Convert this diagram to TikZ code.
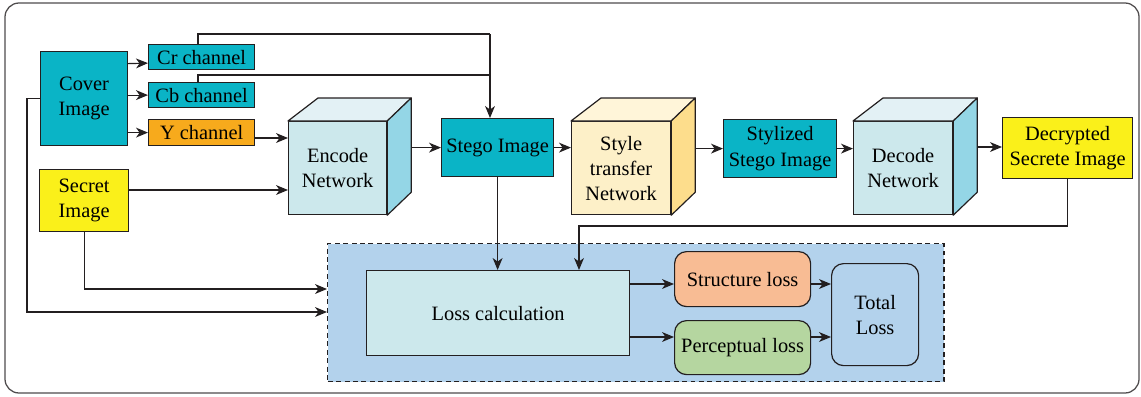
\documentclass[tikz,border=0pt]{standalone}
\usepackage{fontspec}
\setmainfont{Liberation Serif}
\usetikzlibrary{arrows.meta,calc}

\definecolor{lineC}{HTML}{231F20}
\definecolor{tealC}{HTML}{0AB4C6}
\definecolor{orangeC}{HTML}{F7AA1C}
\definecolor{yellowC}{HTML}{FAF01A}
\definecolor{encFront}{HTML}{CCE8EC}
\definecolor{encTop}{HTML}{E3F1F5}
\definecolor{encSide}{HTML}{94D6E6}
\definecolor{styFront}{HTML}{FDF0C8}
\definecolor{styTop}{HTML}{FFF5D9}
\definecolor{stySide}{HTML}{FDDD8C}
\definecolor{lossBg}{HTML}{B3D2EC}
\definecolor{structC}{HTML}{F8BC94}
\definecolor{percepC}{HTML}{B5D6A0}

\begin{document}
\begin{tikzpicture}[x=0.025cm, y=-0.025cm, line width=0.85pt, draw=lineC,
		>={Stealth[length=8.5pt,width=7pt,inset=2.5pt]},
		font=\rmfamily\fontsize{14.5}{17.8}\selectfont,
		box/.style={draw=lineC, inner sep=0pt, align=center, anchor=north west},
		soft/.style={box, rounded corners=0.3cm}]
		\useasboundingbox (0,0) rectangle (1141,396);
		\draw[draw=lineC!80, line width=0.9pt, rounded corners=0.35cm] (5,3) rectangle (1139,393);

		% loss block background
		\node[box, fill=lossBg, dashed, dash pattern=on 3.5pt off 2.5pt, line width=1pt, minimum width=15.4cm, minimum height=3.45cm] (lossbg) at (327,243) {};

		\node[box, fill=tealC, minimum width=2.175cm, minimum height=2.35cm] (cover) at (40,51) {Cover\\Image};
		\node[box, fill=tealC, minimum width=2.65cm, minimum height=0.625cm] (cr) at (148,44) {Cr channel};
		\node[box, fill=tealC, minimum width=2.65cm, minimum height=0.625cm] (cb) at (148,82) {Cb channel};
		\node[box, fill=orangeC, minimum width=2.65cm, minimum height=0.65cm] (ych) at (148,119) {Y channel};
		\node[box, fill=yellowC, minimum width=2.225cm, minimum height=1.55cm] (secret) at (39,169) {Secret\\Image};

		\node[box, fill=encFront, minimum width=2.45cm, minimum height=2.325cm] (enc) at (288,121) {Encode\\Network};
		\node[box, fill=tealC, minimum width=2.8cm, minimum height=1.45cm] (stego) at (441,118) {Stego Image};
		\node[box, fill=styFront, minimum width=2.475cm, minimum height=2.325cm] (sty) at (571,121) {Style\\transfer\\Network};
		\node[box, fill=tealC, minimum width=2.825cm, minimum height=1.45cm] (stylized) at (723,119) {Stylized\\Stego Image};
		\node[box, fill=encFront, minimum width=2.475cm, minimum height=2.325cm] (dec) at (853,121) {Decode\\Network};
		\node[box, fill=yellowC, minimum width=3.25cm, minimum height=1.525cm] (decr) at (1002,117) {Decrypted\\Secrete Image};

		\node[box, fill=encFront, minimum width=6.575cm, minimum height=2.125cm] (losscalc) at (366,270) {Loss calculation};
		\node[soft, fill=structC, minimum width=3.4cm, minimum height=1.375cm] (struct) at (674,251) {Structure loss};
		\node[soft, fill=percepC, minimum width=3.4cm, minimum height=1.35cm] (percep) at (674,320) {Perceptual loss};
		\node[soft, fill=lossBg, minimum width=2.175cm, minimum height=2.55cm] (total) at (831,263) {Total\\Loss};

		% cube faces
		\foreach \c/\tc/\sc in {enc/encTop/encSide, sty/styTop/stySide, dec/encTop/encSide}{
			\draw[fill=\tc, line join=round] (\c.north west) -- ++(30,-23) -- ($(\c.north east)+(24,-23)$) -- (\c.north east) -- cycle;
			\draw[fill=\sc, line join=round] (\c.north east) -- ++(24,-23) -- ($(\c.south east)+(24,-23)$) -- (\c.south east) -- cycle;
			\coordinate (\c R) at ($(\c.east)+(24,-23)$);
		}
		\coordinate (topjoin) at (490,34);
		\coordinate (backjoin) at (579,226);

		\draw[->] ($(cover.east)+(0,-35)$) -- ($(cr.west)+(0,6)$);
		\draw[->] (cover.east |- cb.west) -- (cb.west);
		\draw[->] (cover.east |- ych.west) -- (ych.west);
		\draw[->] (ych.east |- 0,138) -- (enc.west |- 0,138);
		\draw[->] (secret.east |- 0,190) -- (enc.west |- 0,190);
		\draw (cr.north -| 198,0) |- (topjoin);
		\draw (cb.north -| 198,0) |- (topjoin |- 0,75);
		\draw[->] (topjoin) -- (topjoin |- stego.north);
		\draw[->] (encR |- stego.west) -- (stego.west);
		\draw[->] (stego.east) -- (stego.east -| sty.west);
		\draw[->] (styR |- stylized.west) -- (stylized.west);
		\draw[->] (stylized.east) -- (stylized.east -| dec.west);
		\draw[->] (decR |- 0,147) -- (decr.west |- 0,147);

		\draw[->] (stego.south) -- (stego.south |- losscalc.north);
		\draw[->] (decr.south) |- (backjoin) -- (backjoin |- losscalc.north);
		\draw[->] (secret.south) |- (lossbg.west |- 0,289);
		\draw[->] (cover.west) -- ++(-13,0) |- (lossbg.west |- 0,312);

		\draw[->] (losscalc.east |- 0,284) -- (struct.west |- 0,284);
		\draw[->] (losscalc.east |- 0,337) -- (percep.west |- 0,337);
		\draw[->] (struct.east |- 0,284) -- (total.west |- 0,284);
		\draw[->] (percep.east |- 0,337) -- (total.west |- 0,337);
	\end{tikzpicture}
\end{document}
